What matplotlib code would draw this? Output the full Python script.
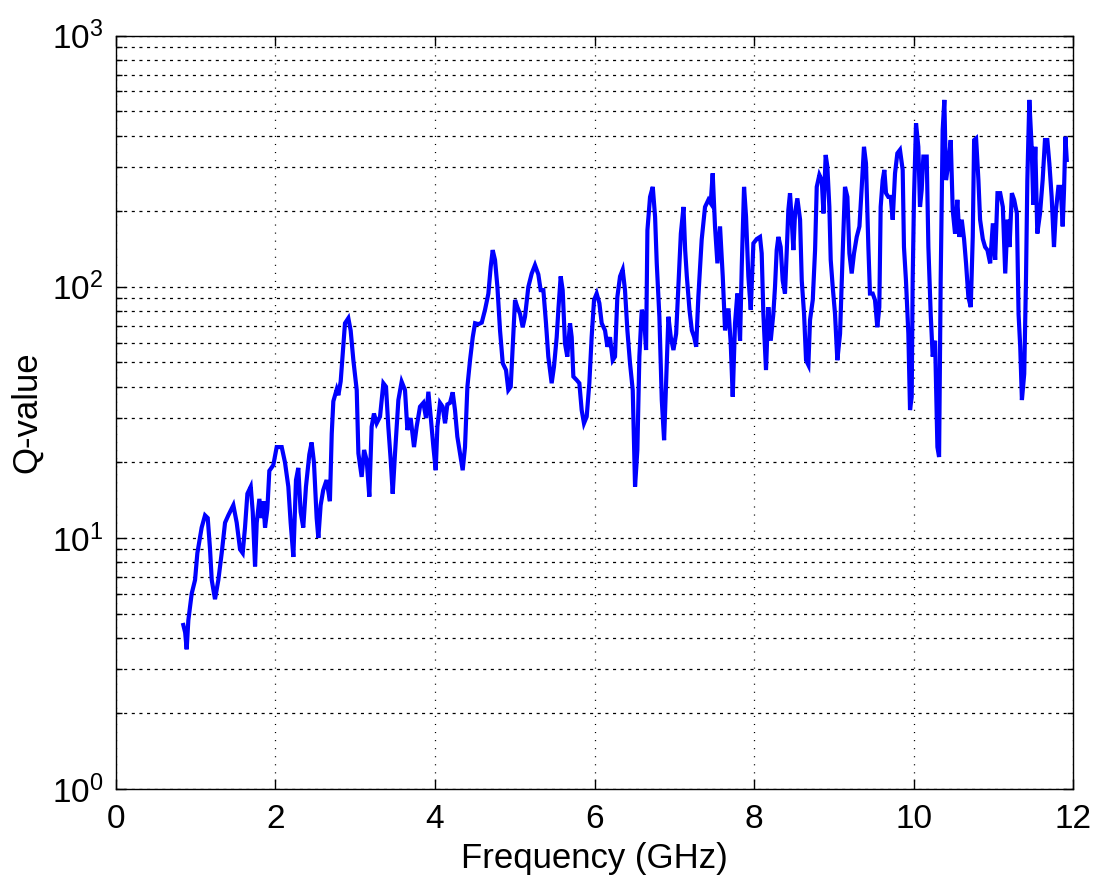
import matplotlib
matplotlib.use("Agg")
import matplotlib.pyplot as plt
from matplotlib.ticker import LogLocator, FixedLocator, NullFormatter, FixedFormatter
import numpy as np

# ---- data ----
freq_a = [0.847, 0.87, 0.889, 0.91, 0.952, 0.994, 1.023, 1.077, 1.119, 1.153, 1.182, 1.203, 1.244,
          1.286, 1.328, 1.370, 1.411, 1.474, 1.516, 1.558, 1.591, 1.62, 1.65, 1.692, 1.717, 1.746,
          1.767, 1.80, 1.83, 1.85, 1.871, 1.90, 1.925, 1.975, 2.017, 2.08, 2.121, 2.163, 2.192,
          2.226, 2.259, 2.288, 2.317, 2.35, 2.384, 2.426, 2.455, 2.484, 2.518, 2.539, 2.568, 2.60,
          2.642, 2.684]
q_a = [4.5, 4.2, 3.6, 4.7, 6.0, 6.8, 8.7, 11, 12.3, 12, 9, 6.8, 5.7,
       6.8, 8.7, 11.5, 12.3, 13.5, 11.5, 9, 8.7, 11, 15, 16, 12.7, 7.7,
       11.5, 14.3, 12, 14, 11, 13, 18.5, 19.5, 23, 23, 20, 16, 11.5,
       8.4, 17, 19, 12.7, 11, 16, 21.5, 24, 20, 12, 10, 13.5, 15.5,
       17, 14]

freq_b = [2.707, 2.727, 2.769, 2.79, 2.819, 2.844, 2.873, 2.915, 2.944, 2.978, 3.02, 3.041, 3.082,
          3.112, 3.145, 3.178, 3.207, 3.236, 3.27, 3.312, 3.354, 3.387, 3.416, 3.446, 3.471, 3.5,
          3.542, 3.583, 3.625, 3.655, 3.696, 3.738, 3.771, 3.813, 3.855, 3.889, 3.918, 3.947, 3.981,
          4.01, 4.031, 4.064, 4.097, 4.127, 4.156, 4.189, 4.223, 4.252, 4.281, 4.315, 4.348, 4.377,
          4.407, 4.44, 4.474, 4.503, 4.545, 4.587, 4.628, 4.67, 4.699, 4.724, 4.753, 4.783, 4.816,
          4.85, 4.891, 4.92, 4.95, 4.975, 5.004, 5.033, 5.067, 5.1, 5.129, 5.171, 5.213, 5.254,
          5.296, 5.325]
q_b = [26, 35, 39, 37, 42, 54, 71.6, 75, 67, 51, 38.8, 21.7, 17.5,
       22.4, 20.4, 14.6, 27.7, 31.3, 28.6, 30.4, 41.3, 40, 27.7, 20.4, 15, 21.7,
       35.4, 41.9, 38.8, 26.9, 30, 23, 27.7, 33.3, 34.5, 30, 38.2, 30.4, 23,
       18.6, 27.7, 34.5, 33.3, 28.6, 34, 34.5, 38, 32.2, 25.3, 21.7, 18.6, 23,
       40, 51, 63, 71.6, 71, 72, 81, 94, 120, 140, 128, 100, 67,
       49.6, 46.6, 38.8, 40, 57.7, 88.6, 83, 78, 69, 76, 100, 113, 122,
       112, 97]

freq_c = [5.359, 5.392, 5.421, 5.463, 5.492, 5.526, 5.547, 5.576, 5.601, 5.63, 5.659, 5.693, 5.714,
          5.735, 5.777, 5.81, 5.839, 5.868, 5.902, 5.935, 5.964, 5.994, 6.027, 6.061, 6.09, 6.132,
          6.161, 6.194, 6.228, 6.257, 6.286, 6.32, 6.353, 6.382, 6.412, 6.445, 6.479, 6.508, 6.537,
          6.562, 6.592, 6.621, 6.646, 6.663, 6.696, 6.73, 6.759, 6.78, 6.813, 6.843, 6.872, 6.897,
          6.926, 6.956, 6.989, 7.023, 7.052, 7.082, 7.115, 7.136, 7.157, 7.19, 7.22, 7.249, 7.274,
          7.301, 7.343, 7.385, 7.427, 7.456, 7.481, 7.51, 7.54, 7.573, 7.607, 7.636, 7.678, 7.707,
          7.732, 7.761, 7.79, 7.824, 7.845, 7.874, 7.899, 7.928, 7.958, 7.991, 8.033]
q_c = [97, 71.6, 52.7, 41.3, 48, 63, 81, 110, 97, 59.5, 52.7, 71.6, 63,
       43.9, 42.5, 41.3, 32.3, 28.6, 30.4, 41.3, 63, 88.6, 94, 86, 71.6, 67,
       57.7, 63, 51, 52.7, 91, 110, 117, 97, 67, 49.6, 38.8, 16, 22.4,
       52.7, 81, 76, 56, 168, 228, 250, 190, 124, 76, 35.4, 24.5, 41.3,
       76, 63, 56, 65, 103, 163, 208, 140, 110, 81, 67, 63, 57.7,
       91, 154, 208, 222, 215, 283, 174, 124, 174, 110, 67, 82, 59.5,
       36.5, 71.6, 94, 61, 120, 250, 190, 110, 81, 149, 155]

freq_d = [8.074, 8.095, 8.116, 8.149, 8.178, 8.208, 8.241, 8.262, 8.283, 8.304, 8.333, 8.358, 8.387,
          8.408, 8.429, 8.45, 8.471, 8.492, 8.513, 8.542, 8.576, 8.597, 8.626, 8.651, 8.68, 8.701,
          8.735, 8.764, 8.785, 8.818, 8.848, 8.869, 8.897, 8.918, 8.943, 8.96, 8.985, 9.014, 9.043,
          9.077, 9.11, 9.139, 9.169, 9.194, 9.223, 9.252, 9.286, 9.32, 9.349, 9.377, 9.402, 9.432,
          9.452, 9.486, 9.515, 9.544, 9.569, 9.586, 9.611, 9.632, 9.653, 9.682, 9.712, 9.737, 9.766,
          9.795, 9.828, 9.862, 9.878, 9.903, 9.933, 9.954, 9.975, 9.987, 10.004, 10.029, 10.058,
          10.079, 10.1, 10.121, 10.163, 10.184, 10.213, 10.238, 10.268, 10.297, 10.318, 10.338,
          10.363, 10.384, 10.405, 10.435, 10.464, 10.489, 10.518, 10.547, 10.572, 10.602, 10.631,
          10.656, 10.685, 10.715, 10.74, 10.757, 10.782, 10.811, 10.832, 10.866, 10.895, 10.924,
          10.958, 10.992, 11.021, 11.05, 11.084, 11.117, 11.147, 11.176, 11.201, 11.23, 11.259,
          11.293, 11.314, 11.335, 11.356, 11.385, 11.407, 11.424, 11.449, 11.478, 11.499, 11.524,
          11.549, 11.583, 11.616, 11.645, 11.675, 11.7, 11.729, 11.758, 11.783, 11.813, 11.842,
          11.867, 11.884, 11.901, 11.918]
q_d = [158, 136, 78, 46.6, 83, 61, 78, 100, 140, 158, 144, 106, 94,
       136, 202, 236, 185, 140, 196, 225, 185, 106, 78, 51, 48.8, 73.8,
       88.6, 140, 250, 279, 266, 196, 335, 301, 208, 128, 100, 78, 51,
       65, 136, 250, 228, 136, 113, 136, 158, 174, 250, 361, 310, 144,
       94, 94, 88.6, 69, 83, 208, 266, 292, 236, 228, 228, 185, 283,
       340, 351, 292, 144, 106, 65, 32.3, 36.5, 106, 228, 448, 361,
       208, 243, 330, 330, 144, 78, 52.7, 61, 23, 21, 106,
       421, 555, 266, 310, 384, 202, 163, 222, 158, 185, 155,
       124, 91, 83, 158, 384, 390, 266, 185, 155, 144, 140,
       124, 179, 128, 236, 236, 208, 113, 185, 144, 236, 222,
       196, 78, 57.7, 35.4, 45, 106, 266, 555, 361, 212, 361,
       163, 196, 266, 384, 384, 310, 228, 144, 202, 250, 250,
       174, 243, 396, 320]

x_ticks = [0, 2, 4, 6, 8, 10, 12]
y_tick_labels = [r"$\mathregular{10^{0}}$", r"$\mathregular{10^{1}}$",
                 r"$\mathregular{10^{2}}$", r"$\mathregular{10^{3}}$"]

freq = freq_a + freq_b + freq_c + freq_d
q = q_a + q_b + q_c + q_d

plt.rcParams["font.family"] = ["Liberation Sans", "DejaVu Sans"]
plt.rcParams["mathtext.fontset"] = "custom"
plt.rcParams["mathtext.rm"] = "Liberation Sans"
plt.rcParams["lines.scale_dashes"] = False

fig = plt.figure(figsize=(10.98, 8.81), dpi=100)
ax = fig.add_axes([0.1054, 0.1044, 0.8721, 0.8551])

ax.plot(freq, q, color=(0, 0, 1), lw=3.0, solid_joinstyle="miter")

ax.set_yscale("log")
ax.set_xlim(0, 12)
ax.set_ylim(1, 1000)
ax.xaxis.set_major_locator(FixedLocator(x_ticks))
ax.set_xticklabels([str(t) for t in x_ticks])
ax.yaxis.set_major_locator(FixedLocator([1, 10, 100, 1000]))
ax.yaxis.set_major_formatter(FixedFormatter(y_tick_labels))
ax.yaxis.set_minor_locator(LogLocator(base=10, subs=np.arange(2, 10), numticks=20))
ax.yaxis.set_minor_formatter(NullFormatter())

ax.grid(True, which="major", axis="x", color="k", linestyle=(0, (0.8, 5.0)), lw=0.9)
ax.grid(True, which="both", axis="y", color="k", linestyle=(0, (2.2, 3.3)), lw=0.9)
ax.set_axisbelow(True)

ax.tick_params(which="both", direction="in", top=True, right=True, width=1.0, colors="k")
ax.tick_params(which="major", length=7, labelsize=24, pad=11)
ax.tick_params(which="minor", length=4)
ax.tick_params(axis="y", which="major", pad=9)
for s in ax.spines.values():
    s.set_linewidth(1.0)
    s.set_color("k")

ax.set_xlabel("Frequency (GHz)", fontsize=25, labelpad=5)
ax.set_ylabel("Q-value", fontsize=25, labelpad=6)

fig.savefig("out.png", dpi=100)
